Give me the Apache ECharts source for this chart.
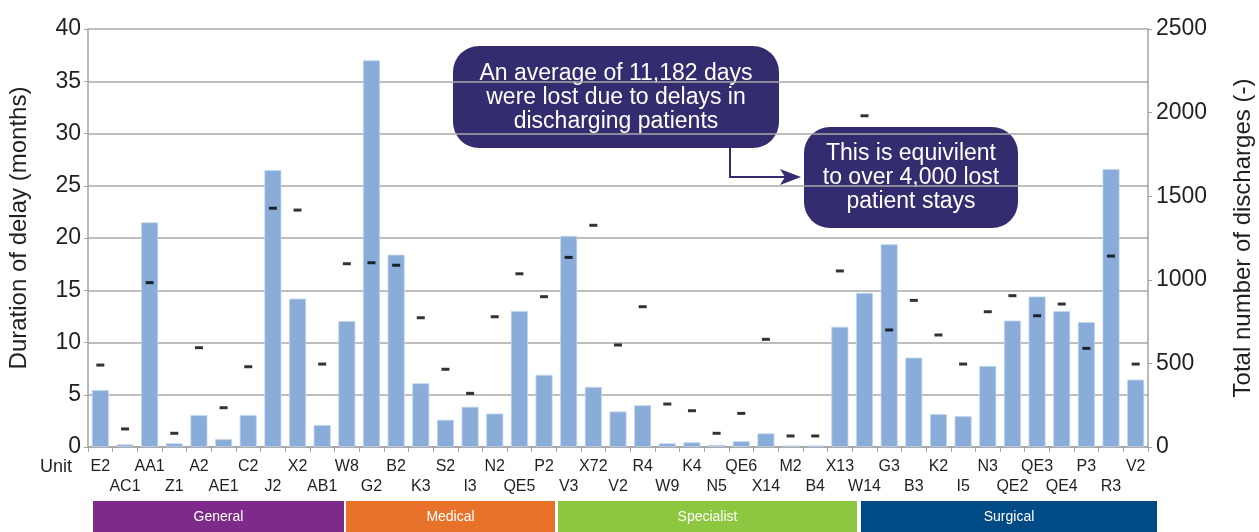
<!DOCTYPE html>
<html>
<head>
<meta charset="utf-8">
<script src="https://cdn.jsdelivr.net/npm/echarts@6/dist/echarts.min.js"></script>
<style>
  html, body { margin: 0; padding: 0; background: #fff; }
  #chart { width: 1259px; height: 532px; }
</style>
</head>
<body>
<div id="chart"></div>
<script>
// units (x axis), alternating rows in the picture
var units = ['E2', 'AC1', 'AA1', 'Z1', 'A2', 'AE1', 'C2', 'J2', 'X2', 'AB1',
  'W8', 'G2', 'B2', 'K3', 'S2', 'I3', 'N2', 'QE5', 'P2', 'V3',
  'X72', 'V2', 'R4', 'W9', 'K4', 'N5', 'QE6', 'X14', 'M2', 'B4',
  'X13', 'W14', 'G3', 'B3', 'K2', 'I5', 'N3', 'QE2', 'QE3', 'QE4', 'P3', 'R3', 'V2'];

// duration of delay, months (bars, left axis)
var delayMonths = [5.45, 0.25, 21.5, 0.35, 3.05, 0.75, 3.05, 26.5, 14.2, 2.1,
  12.05, 37, 18.4, 6.1, 2.6, 3.85, 3.2, 13.0, 6.9, 20.2,
  5.75, 3.4, 4.0, 0.35, 0.45, 0.2, 0.55, 1.3, 0.15, 0.15,
  11.5, 14.75, 19.4, 8.55, 3.15, 2.95, 7.75, 12.1, 14.4, 13.0, 11.95, 26.6, 6.45];

// total number of discharges (dashes, right axis)
var discharges = [490, 108, 983, 82, 594, 235, 480, 1428, 1417, 496,
  1096, 1102, 1087, 773, 465, 321, 779, 1036, 899, 1134,
  1326, 610, 839, 257, 217, 82, 201, 644, 66, 66,
  1053, 1981, 700, 877, 670, 496, 809, 905, 785, 855, 590, 1142, 496];

var leftTicks = { min: 0, max: 40, interval: 5 };
var rightTicks = { min: 0, max: 2500, interval: 500 };

var groups = ['General', 'Medical', 'Specialist', 'Surgical'];
var groupColors = ['#7e2a8b', '#e8722a', '#8dc63f', '#004a86'];

var font = '"Liberation Sans", Arial, sans-serif';
var ink = '#231f20';
var callout = '#332c6e';
var axisGray = '#a3a3a3';

var chart = echarts.init(document.getElementById('chart'));

// group bands under the axis
var bandX = [[93, 344], [346, 555], [558, 857], [861, 1157]];
var bands = [];
groups.forEach(function (g, i) {
  bands.push({
    type: 'rect',
    shape: { x: bandX[i][0], y: 501, width: bandX[i][1] - bandX[i][0], height: 31 },
    style: { fill: groupColors[i] }
  });
  bands.push({
    type: 'text',
    style: {
      text: g, x: (bandX[i][0] + bandX[i][1]) / 2, y: 517,
      align: 'center', verticalAlign: 'middle',
      fill: '#fff', font: '14px ' + font
    }
  });
});

chart.setOption({
  animation: false,
  textStyle: { fontFamily: font },
  grid: { left: 88, right: 111, top: 29, bottom: 85, containLabel: false, outerBoundsMode: 'none' },
  xAxis: {
    type: 'category',
    data: units,
    axisLine: { lineStyle: { color: axisGray, width: 1.5 } },
    axisTick: { show: true, length: 5, lineStyle: { color: axisGray } },
    axisLabel: {
      interval: 0, fontSize: 16, color: ink, margin: 10, lineHeight: 20,
      formatter: function (v, i) { return i % 2 ? '\n' + v : v; }
    }
  },
  yAxis: [
    {
      type: 'value', min: leftTicks.min, max: leftTicks.max, interval: leftTicks.interval,
      name: 'Duration of delay (months)', nameLocation: 'middle', nameGap: 57,
      nameTextStyle: { fontSize: 24, color: ink, padding: [0, 0, 0, 20] },
      axisLine: { show: true, lineStyle: { color: axisGray, width: 1.5 } },
      axisTick: { show: true, length: 4, lineStyle: { color: axisGray } },
      axisLabel: { fontSize: 23, color: ink, margin: 7, formatter: function (v) { return String(v); } },
      splitLine: { lineStyle: { color: '#a8a8a8', width: 1.5 } }
    },
    {
      type: 'value', min: rightTicks.min, max: rightTicks.max, interval: rightTicks.interval,
      name: 'Total number of discharges (-)', nameLocation: 'middle', nameGap: 83,
      nameRotate: 90,
      nameTextStyle: { fontSize: 24, color: ink },
      axisLine: { show: true, lineStyle: { color: axisGray, width: 1.5 } },
      axisTick: { show: true, length: 4, lineStyle: { color: axisGray } },
      axisLabel: { fontSize: 23, color: ink, margin: 8, formatter: function (v) { return String(v); } },
      splitLine: { show: false }
    }
  ],
  series: [
    {
      name: 'Duration of delay',
      type: 'bar',
      data: delayMonths,
      barWidth: 17,
      itemStyle: { color: '#89acd9', borderColor: '#c3d5ee', borderWidth: 0.8 }
    },
    {
      name: 'Discharges',
      type: 'scatter',
      yAxisIndex: 1,
      data: discharges,
      symbol: 'rect',
      symbolSize: [8, 3],
      itemStyle: { color: '#000' },
      z: 5
    }
  ],
  graphic: bands.concat([
    {
      type: 'text',
      style: { text: 'Unit', x: 40, y: 467, verticalAlign: 'middle', fill: ink, font: '18px ' + font }
    },
    // arrow from first callout to second
    {
      type: 'polyline',
      shape: { points: [[730, 146], [730, 177], [786, 177]] },
      style: { stroke: callout, lineWidth: 2, fill: null }
    },
    {
      type: 'polygon',
      shape: { points: [[780, 169], [801, 177], [780, 185], [785, 177]] },
      style: { fill: callout }
    },
    {
      type: 'rect',
      shape: { x: 453, y: 46, width: 326, height: 102, r: 26 },
      style: { fill: callout }
    },
    {
      type: 'text',
      style: {
        text: 'An average of 11,182 days\nwere lost due to delays in\ndischarging patients',
        x: 616, y: 98, align: 'center', verticalAlign: 'middle',
        fill: '#fff', font: '23px ' + font, lineHeight: 24
      }
    },
    {
      type: 'rect',
      shape: { x: 804, y: 127, width: 214, height: 101, r: 26 },
      style: { fill: callout }
    },
    {
      type: 'text',
      style: {
        text: 'This is equivilent\nto over 4,000 lost\npatient stays',
        x: 911, y: 178, align: 'center', verticalAlign: 'middle',
        fill: '#fff', font: '23px ' + font, lineHeight: 24
      }
    }
  ])
});
</script>
</body>
</html>
